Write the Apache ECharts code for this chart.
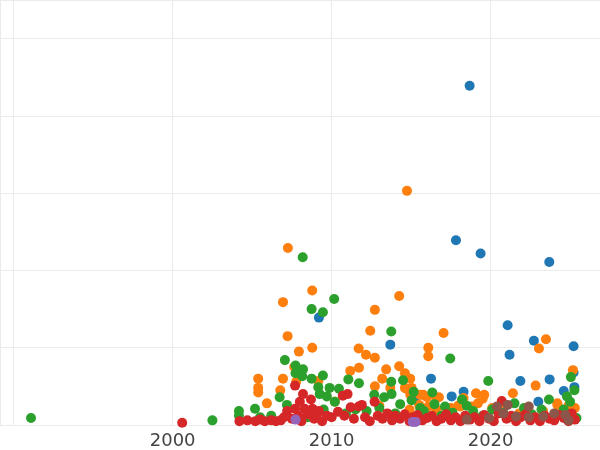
<!DOCTYPE html>
<html><head><meta charset="utf-8">
<script src="https://cdn.jsdelivr.net/npm/echarts@6/dist/echarts.min.js"></script>
<style>html,body{margin:0;padding:0;background:#fff}#c{width:600px;height:450px}</style>
</head><body><div id="c"></div>
<script>
const xTickLabels = [2000, 2010, 2020];

const blue = [
[2018.68,4.39],[2017.82,2.39],[2019.37,2.22],[2023.69,2.11],[2009.2,1.39],[2013.69,1.04],
[2021.07,1.29],[2022.72,1.09],[2025.22,1.02],[2021.19,0.91],[2016.25,0.60],[2021.87,0.57],
[2023.71,0.59],[2025.22,0.68],[2024.6,0.44],[2025.27,0.49],[2017.55,0.37],[2018.3,0.43],
[2015.24,0.35],[2023.0,0.30]
];
const orange = [
[2014.74,3.03],[2007.25,2.29],[2008.78,1.74],[2006.94,1.59],[2014.25,1.67],[2012.72,1.49],
[2012.43,1.22],[2017.04,1.19],[2007.23,1.15],[2008.78,1.00],[2007.94,0.95],[2011.7,0.99],
[2012.16,0.91],[2012.72,0.87],[2016.08,1.00],[2016.08,0.89],[2023.48,1.11],[2023.04,0.99],
[2007.65,0.75],[2005.38,0.60],[2005.38,0.48],[2005.38,0.42],[2006.94,0.60],[2006.77,0.45],
[2005.93,0.28],[2007.77,0.56],[2009.16,0.57],[2011.17,0.70],[2011.72,0.74],[2013.43,0.72],
[2014.25,0.76],[2014.61,0.67],[2014.94,0.60],[2013.18,0.60],[2012.72,0.50],[2013.69,0.48],
[2014.61,0.48],[2015.03,0.48],[2015.57,0.39],[2016.0,0.36],[2016.75,0.36],[2016.08,0.24],
[2017.96,0.25],[2019.08,0.41],[2019.5,0.34],[2021.4,0.41],[2022.83,0.51],[2025.18,0.71],
[2024.2,0.28],[2018.8,0.24],[2019.2,0.28],[2014.7,0.47],[2014.95,0.39],[2015.76,0.39],
[2016.6,0.35],[2018.1,0.24],[2018.3,0.35],[2019.6,0.39],[2020.1,0.22],[2020.6,0.22],
[2021.8,0.15],[2022.2,0.20],[2023.3,0.18],[2024.2,0.26],[2024.9,0.25],[2025.3,0.22],
[2014.9,0.20],[2015.5,0.26],[2016.6,0.20],[2017.5,0.22],[2010.2,0.30],[2013.0,0.25]
];
const green = [
[1991.09,0.09],[2002.5,0.06],[2008.18,2.17],[2010.16,1.63],[2008.74,1.50],[2009.45,1.46],
[2013.75,1.21],[2017.46,0.86],[2007.06,0.84],[2007.73,0.77],[2008.2,0.72],[2008.15,0.63],
[2007.73,0.67],[2008.74,0.60],[2009.45,0.64],[2009.87,0.48],[2009.16,0.49],[2009.25,0.40],
[2009.7,0.37],[2010.46,0.47],[2006.73,0.36],[2005.18,0.21],[2004.17,0.18],[2004.17,0.12],
[2007.19,0.26],[2011.05,0.59],[2011.72,0.54],[2013.75,0.56],[2014.49,0.58],[2012.68,0.39],
[2013.3,0.36],[2013.77,0.40],[2015.16,0.43],[2016.33,0.42],[2016.47,0.27],[2017.13,0.24],
[2014.31,0.27],[2015.03,0.32],[2015.57,0.22],[2019.85,0.57],[2025.05,0.62],[2025.27,0.45],
[2024.8,0.37],[2023.67,0.33],[2021.5,0.28],[2022.1,0.22],[2018.2,0.33],[2018.5,0.25],
[2025.4,0.09],[2005.5,0.10],[2006.2,0.12],[2008.5,0.10],[2009.5,0.20],[2010.2,0.30],
[2010.9,0.15],[2011.5,0.20],[2012.2,0.18],[2013.0,0.22],[2014.0,0.15],[2015.8,0.18],
[2016.9,0.12],[2017.6,0.16],[2018.9,0.18],[2019.5,0.12],[2020.1,0.20],[2020.8,0.16],
[2021.2,0.10],[2022.6,0.14],[2023.2,0.20],[2024.1,0.12],[2024.6,0.20],[2025.0,0.30]
];
const red = [
[2000.6,0.03],[2004.2,0.05],[2004.7,0.06],[2005.2,0.05],[2005.5,0.07],[2005.8,0.05],
[2006.2,0.06],[2006.5,0.05],[2006.8,0.06],[2007.0,0.10],[2007.2,0.18],[2007.5,0.08],
[2007.7,0.21],[2007.7,0.51],[2007.9,0.12],[2008.0,0.30],[2008.1,0.05],[2008.2,0.40],
[2008.3,0.21],[2008.5,0.14],[2008.7,0.33],[2008.8,0.21],[2008.9,0.08],[2009.1,0.15],
[2009.2,0.18],[2009.4,0.05],[2009.7,0.12],[2010.0,0.10],[2010.4,0.17],[2010.7,0.38],
[2010.8,0.12],[2011.0,0.40],[2011.2,0.23],[2011.4,0.08],[2011.7,0.24],[2011.9,0.26],
[2012.1,0.10],[2012.4,0.05],[2012.7,0.30],[2012.9,0.12],[2013.2,0.08],[2013.5,0.15],
[2013.8,0.06],[2014.0,0.12],[2014.3,0.08],[2014.6,0.14],[2014.9,0.05],[2015.1,0.10],
[2015.4,0.13],[2015.7,0.06],[2016.0,0.09],[2016.3,0.12],[2016.6,0.05],[2016.9,0.08],
[2017.2,0.14],[2017.5,0.06],[2017.8,0.10],[2018.1,0.05],[2018.4,0.12],[2018.7,0.07],
[2019.0,0.10],[2019.3,0.05],[2019.6,0.13],[2019.9,0.08],[2020.2,0.05],[2020.5,0.15],
[2020.7,0.31],[2021.0,0.08],[2021.3,0.12],[2021.6,0.05],[2021.9,0.10],[2022.2,0.14],
[2022.5,0.06],[2022.8,0.10],[2023.1,0.05],[2023.4,0.12],[2023.7,0.08],[2024.0,0.06],
[2024.3,0.13],[2024.6,0.09],[2024.9,0.05],[2025.1,0.15],[2025.3,0.07]
];
const purple = [[2007.73,0.07],[2015.1,0.04],[2015.28,0.04]];
const brown = [
[2020.4,0.24],[2021.07,0.26],[2022.4,0.24],[2020.8,0.15],[2018.5,0.07],[2019.9,0.09],
[2021.6,0.11],[2022.4,0.10],[2023.3,0.11],[2024.0,0.15],[2024.7,0.13],[2024.9,0.06]
];

const seriesDefs = [
  {name:'blue', data:blue, color:'#1f77b4'},
  {name:'orange', data:orange, color:'#ff7f0e'},
  {name:'green', data:green, color:'#2ca02c'},
  {name:'red', data:red, color:'#d62728'},
  {name:'purple', data:purple, color:'#9467bd'},
  {name:'brown', data:brown, color:'#8c564b'}
];

const chart = echarts.init(document.getElementById('c'), null, {renderer:'canvas'});
chart.setOption({
  animation:false,
  backgroundColor:'#fff',
  grid:{left:0, right:0, top:0, bottom:23},
  xAxis:{
    type:'value', min:1989.14, max:2026.88, splitNumber:4,
    axisLine:{show:false}, axisTick:{show:false},
    axisLabel:{
      color:'#444', fontSize:18, fontFamily:'DejaVu Sans', margin:7,
      showMinLabel:false, showMaxLabel:false,
      formatter: v => xTickLabels.indexOf(Math.round(v)) >= 0 && Math.abs(v-Math.round(v))<1e-6 ? String(Math.round(v)) : ''
    },
    splitLine:{show:true, lineStyle:{color:'#ebebeb', width:1}}
  },
  yAxis:{
    type:'value', min:0, max:5.5, interval:1,
    axisLine:{show:false}, axisTick:{show:false}, axisLabel:{show:false},
    splitLine:{show:true, lineStyle:{color:'#ebebeb', width:1}}
  },
  series: seriesDefs.map(s => ({
    type:'scatter', name:s.name, data:s.data, symbolSize:10, clip:true,
    itemStyle:{color:s.color, opacity:1}
  }))
});
</script></body></html>
